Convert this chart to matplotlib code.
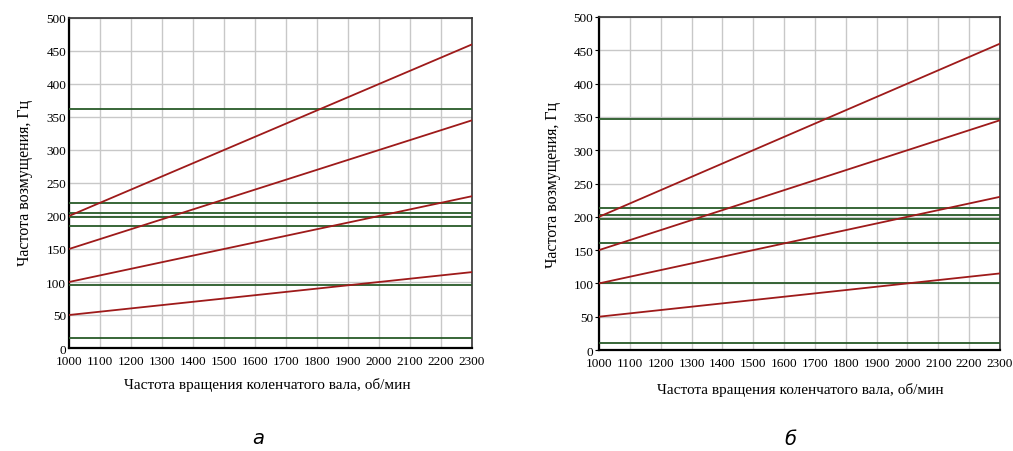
import matplotlib
matplotlib.use("Agg")
import matplotlib.pyplot as plt


# Частота вращения коленчатого вала, об/мин
rpm = [1000, 1100, 1200, 1300, 1400, 1500, 1600, 1700, 1800, 1900, 2000, 2100, 2200, 2300]

# Гармоники возмущения (красные линии), Гц
harm_1 = [50, 55, 60, 65, 70, 75, 80, 85, 90, 95, 100, 105, 110, 115]
harm_2 = [100, 110, 120, 130, 140, 150, 160, 170, 180, 190, 200, 210, 220, 230]
harm_3 = [150, 165, 180, 195, 210, 225, 240, 255, 270, 285, 300, 315, 330, 345]
harm_4 = [200, 220, 240, 260, 280, 300, 320, 340, 360, 380, 400, 420, 440, 460]

# Собственные частоты (зелёные линии), Гц
natural_a = [362, 220, 204, 198, 185, 96, 15]
natural_b = [347, 213, 203, 197, 161, 100, 10]

x_ticks = list(range(1000, 2301, 100))
y_ticks = list(range(0, 501, 50))

RED = "#9e1a1a"
GREEN = "#285a28"
SERIF = "Liberation Serif"

W, H = 1013, 452
fig = plt.figure(figsize=(W / 100, H / 100), dpi=100)


def px_axes(x0, y0, x1, y1):
    return fig.add_axes([x0 / W, 1 - y1 / H, (x1 - x0) / W, (y1 - y0) / H])


def draw_panel(ax, naturals, ticks_out):
    ax.set_xlim(1000, 2300)
    ax.set_ylim(0, 500)
    ax.set_xticks(x_ticks)
    ax.set_yticks(y_ticks)
    ax.grid(True, color="#c8c8c8", linewidth=1.0)
    ax.set_axisbelow(True)

    for f in naturals:
        ax.axhline(f, color=GREEN, linewidth=1.3, zorder=3)

    for h in (harm_1, harm_2, harm_3, harm_4):
        ax.plot(rpm, h, color=RED, linewidth=1.3, zorder=4)

    for lab in ax.get_xticklabels() + ax.get_yticklabels():
        lab.set_fontfamily(SERIF)
        lab.set_fontsize(9.5)
    if ticks_out:
        ax.tick_params(axis="y", length=3, width=0.8, pad=1)
        ax.tick_params(axis="x", length=0)
    else:
        ax.tick_params(length=0, pad=2)
    ax.tick_params(axis="x", pad=5)

    for side in ("left", "bottom"):
        ax.spines[side].set_linewidth(1.6)
    for side in ("top", "right"):
        ax.spines[side].set_linewidth(1.2)
        ax.spines[side].set_color("#333333")


ax_a = px_axes(69, 19, 472, 349)
draw_panel(ax_a, natural_a, False)

ax_b = px_axes(599, 18, 1000, 351)
draw_panel(ax_b, natural_b, True)

ylab = "Частота возмущения, Гц"
xlab = "Частота вращения коленчатого вала, об/мин"

fig.text(25 / W, 1 - 183 / H, ylab, rotation=90, ha="center", va="center",
         fontfamily=SERIF, fontsize=11.5)
fig.text(553 / W, 1 - 185 / H, ylab, rotation=90, ha="center", va="center",
         fontfamily=SERIF, fontsize=11.5)
fig.text(267 / W, 1 - 385 / H, xlab, ha="center", va="center",
         fontfamily=SERIF, fontsize=11)
fig.text(800 / W, 1 - 390 / H, xlab, ha="center", va="center",
         fontfamily=SERIF, fontsize=11)

fig.text(258 / W, 1 - 439 / H, "а", ha="center", va="center",
         fontfamily="DejaVu Sans", fontstyle="italic", fontsize=14)
fig.text(790 / W, 1 - 440 / H, "б", ha="center", va="center",
         fontfamily="DejaVu Sans", fontstyle="italic", fontsize=14)

fig.savefig("out.png", dpi=100)
